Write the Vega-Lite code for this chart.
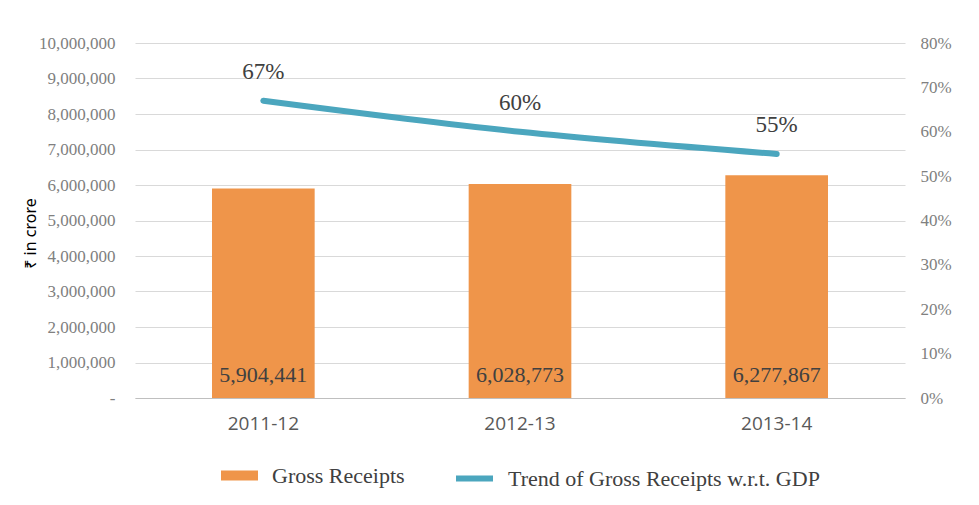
{
  "$schema": "https://vega.github.io/schema/vega-lite/v6.json",
  "width": 770,
  "height": 355,
  "padding": {"left": 22, "top": 34, "right": 10, "bottom": 5},
  "background": "white",
  "config": {
    "view": {"stroke": null},
    "axis": {"labelColor": "#808080", "gridColor": "#D9D9D9", "gridWidth": 1.2},
    "legend": {"layout": {"bottom": {"anchor": "middle", "direction": "horizontal", "margin": 48}}}
  },
  "data": {
    "values": [
      {"year": "2011-12", "receipts": 5904441, "pct": 0.67, "pctLabel": "67%", "series": "Gross Receipts", "trend": "Trend of Gross Receipts w.r.t. GDP"},
      {"year": "2012-13", "receipts": 6028773, "pct": 0.60, "pctLabel": "60%", "series": "Gross Receipts", "trend": "Trend of Gross Receipts w.r.t. GDP"},
      {"year": "2013-14", "receipts": 6277867, "pct": 0.55, "pctLabel": "55%", "series": "Gross Receipts", "trend": "Trend of Gross Receipts w.r.t. GDP"}
    ]
  },
  "encoding": {
    "x": {
      "field": "year",
      "type": "nominal",
      "scale": {"paddingInner": 0.6, "paddingOuter": 0.3},
      "axis": {
        "title": null,
        "labelAngle": 0,
        "labelFont": "Open Sans",
        "labelFontSize": 19,
        "labelColor": "#595959",
        "labelPadding": 16,
        "ticks": false,
        "domainColor": "#BFBFBF",
        "domainWidth": 1.2
      }
    }
  },
  "layer": [
    {
      "layer": [
        {
          "mark": {"type": "bar", "color": "#EF954A"},
          "encoding": {
            "y": {
              "field": "receipts",
              "type": "quantitative",
              "scale": {"domain": [0, 10000000]},
              "axis": {
                "title": "₹ in crore",
                "titleFont": "Noto Sans",
                "titleFontSize": 16,
                "titleFontWeight": "normal",
                "titleColor": "#000000",
                "titlePadding": 0,
                "titleY": 190,
                "values": [0, 1000000, 2000000, 3000000, 4000000, 5000000, 6000000, 7000000, 8000000, 9000000, 10000000],
                "labelExpr": "datum.value == 0 ? '-' : format(datum.value, ',')",
                "labelOverlap": false,
                "labelFont": "Liberation Serif",
                "labelFontSize": 17,
                "labelPadding": 20,
                "ticks": false,
                "domain": false,
                "grid": true
              }
            },
            "fill": {
              "field": "series",
              "type": "nominal",
              "scale": {"range": ["#EF954A"]},
              "legend": {
                "orient": "bottom",
                "title": null,
                "symbolType": "M-1,-0.27H1V0.27H-1Z",
                "symbolSize": 1369,
                "symbolStrokeWidth": 0,
                "labelFont": "Liberation Serif",
                "labelFontSize": 22,
                "labelColor": "#404040",
                "labelLimit": 500,
                "labelOffset": 14,
                "offset": 24
              }
            }
          }
        },
        {
          "mark": {"type": "text", "font": "Liberation Serif", "fontSize": 22, "color": "#404040", "baseline": "bottom", "dy": -11},
          "encoding": {
            "y": {
              "datum": 0,
              "type": "quantitative",
              "axis": {
                "title": "₹ in crore",
                "titleFont": "Noto Sans",
                "titleFontSize": 16,
                "titleFontWeight": "normal",
                "titleColor": "#000000",
                "titlePadding": 0,
                "titleY": 190,
                "values": [0, 1000000, 2000000, 3000000, 4000000, 5000000, 6000000, 7000000, 8000000, 9000000, 10000000],
                "labelExpr": "datum.value == 0 ? '-' : format(datum.value, ',')",
                "labelOverlap": false,
                "labelFont": "Liberation Serif",
                "labelFontSize": 17,
                "labelPadding": 20,
                "ticks": false,
                "domain": false,
                "grid": true
              }
            },
            "text": {"field": "receipts", "type": "quantitative", "format": ","}
          }
        }
      ]
    },
    {
      "layer": [
        {
          "mark": {"type": "line", "interpolate": "monotone", "strokeWidth": 6, "strokeCap": "round"},
          "encoding": {
            "y": {
              "field": "pct",
              "type": "quantitative",
              "scale": {"domain": [0, 0.8]},
              "axis": {
                "orient": "right",
                "title": null,
                "values": [0, 0.1, 0.2, 0.3, 0.4, 0.5, 0.6, 0.7, 0.8],
                "format": ".0%",
                "labelOverlap": false,
                "labelFont": "Liberation Serif",
                "labelFontSize": 17,
                "labelPadding": 15,
                "ticks": false,
                "domain": false,
                "grid": false
              }
            },
            "stroke": {
              "field": "trend",
              "type": "nominal",
              "scale": {"range": ["#4BA6BE"]},
              "legend": {
                "orient": "bottom",
                "title": null,
                "symbolType": "stroke",
                "symbolSize": 1369,
                "symbolStrokeWidth": 6,
                "labelFont": "Liberation Serif",
                "labelFontSize": 22,
                "labelColor": "#404040",
                "labelLimit": 500,
                "labelOffset": 12,
                "offset": 24
              }
            }
          }
        },
        {
          "mark": {"type": "text", "font": "Liberation Serif", "fontSize": 23, "color": "#404040", "baseline": "bottom", "dy": -17},
          "encoding": {
            "y": {
              "field": "pct",
              "type": "quantitative",
              "axis": {
                "orient": "right",
                "title": null,
                "values": [0, 0.1, 0.2, 0.3, 0.4, 0.5, 0.6, 0.7, 0.8],
                "format": ".0%",
                "labelOverlap": false,
                "labelFont": "Liberation Serif",
                "labelFontSize": 17,
                "labelPadding": 15,
                "ticks": false,
                "domain": false,
                "grid": false
              }
            },
            "text": {"field": "pctLabel", "type": "nominal"}
          }
        }
      ]
    }
  ],
  "resolve": {"scale": {"y": "independent"}}
}
